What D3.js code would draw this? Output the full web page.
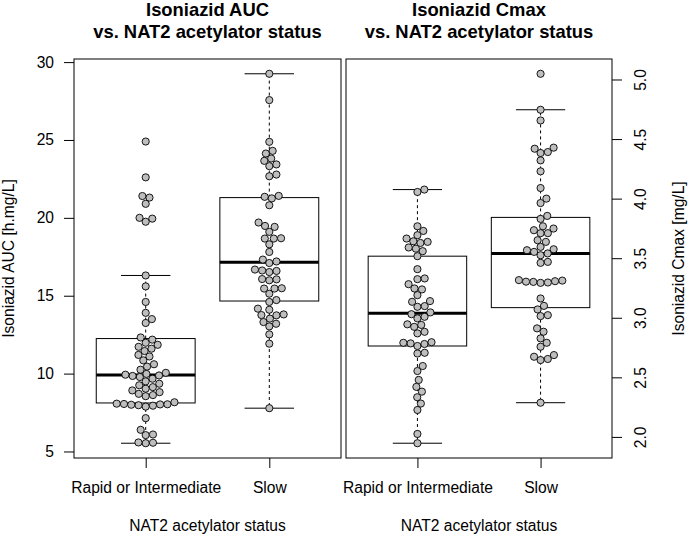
<!DOCTYPE html>
<html>
<head>
<meta charset="utf-8">
<script src="https://cdn.jsdelivr.net/npm/d3@7"></script>
<style>
  body { margin: 0; background: #fff; }
  svg { display: block; font-family: "Liberation Sans", Arial, sans-serif; }
</style>
</head>
<body>
<div id="chart"></div>
<script>

// groups on the x axis
var categories = ["Rapid or Intermediate", "Slow"];

// isoniazid AUC [h.mg/L], one value per patient
var aucRapid = [5.53, 5.56, 5.58, 6.05, 6.09, 6.39, 7.14, 7.88, 7.94, 7.97, 8.0, 8.02, 8.03, 8.05, 8.07,
        8.16, 8.55, 8.62, 8.7, 8.81, 8.92, 9.03, 9.13, 9.25, 9.35, 9.5, 9.67, 9.78, 9.85, 9.88, 9.93,
        9.98, 10.05, 10.25, 10.45, 10.6, 10.85, 11.1, 11.2, 11.45, 11.6, 11.72, 11.85, 11.98, 12.18,
        12.32, 13.25, 13.5, 13.9, 14.6, 15.6, 16.3, 19.75, 19.95, 20.0, 20.9, 21.3, 21.4, 22.6, 24.9];
var aucSlow = [7.78, 11.92, 12.52, 13.03, 13.2, 13.31, 13.53, 13.74, 13.76, 13.8, 14.1, 14.17, 14.6,
        14.72, 15.13, 15.46, 15.46, 15.48, 15.99, 16.05, 16.07, 16.52, 16.59, 16.62, 16.68, 17.1, 17.2,
        17.32, 17.81, 18.3, 18.67, 18.67, 18.69, 19.1, 19.42, 19.48, 19.7, 20.81, 21.25, 21.35, 21.41,
        22.67, 22.78, 23.32, 23.43, 23.66, 23.81, 24.13, 24.3, 24.88, 27.56, 29.25];

// isoniazid Cmax [mg/L]
var cmaxRapid = [1.947, 2.025, 2.226, 2.28, 2.333, 2.38, 2.42, 2.478, 2.553, 2.595, 2.70, 2.706, 2.763,
        2.78, 2.785, 2.79, 2.795, 2.869, 2.882, 2.924, 2.94, 2.945, 2.995, 3.008, 3.03, 3.045, 3.092,
        3.098, 3.134, 3.14, 3.19, 3.238, 3.246, 3.282, 3.324, 3.33, 3.408, 3.517, 3.559, 3.58, 3.59,
        3.628, 3.637, 3.642, 3.665, 3.693, 3.729, 3.768, 4.056, 4.076];
var cmaxSlow = [2.287, 2.645, 2.654, 2.673, 2.687, 2.757, 2.79, 2.827, 2.883, 2.911, 3.014, 3.022, 3.07,
        3.1, 3.162, 3.293, 3.296, 3.301, 3.303, 3.307, 3.312, 3.316, 3.461, 3.469, 3.525, 3.54, 3.553,
        3.567, 3.575, 3.595, 3.637, 3.651, 3.71, 3.71, 3.735, 3.749, 3.768, 3.83, 3.855, 3.963, 4.0,
        4.089, 4.229, 4.321, 4.383, 4.391, 4.419, 4.428, 4.656, 4.746, 5.048];

var aucTicks = [5, 10, 15, 20, 25, 30];
var cmaxTicks = [2.0, 2.5, 3.0, 3.5, 4.0, 4.5, 5.0];

var W = 689, H = 536;
var TOP = 59, BOTTOM = 458;
var FONT = 15.6;
var DOT = 7.3;     // swarm spacing in px
var R = 3.6;

var panels = [
        {"title": ["Isoniazid AUC", "vs. NAT2 acetylator status"], "ylab": "Isoniazid AUC [h.mg/L]",
         "groups": [aucRapid, aucSlow], "ticks": aucTicks, "fmt": d3.format("d"), "side": "left",
         "x0": 74, "x1": 341},
        {"title": ["Isoniazid Cmax", "vs. NAT2 acetylator status"], "ylab": "Isoniazid Cmax [mg/L]",
         "groups": [cmaxRapid, cmaxSlow], "ticks": cmaxTicks, "fmt": d3.format(".1f"), "side": "right",
         "x0": 346, "x1": 612}
];

var svg = d3.select("#chart").append("svg")
        .attr("width", W)
        .attr("height", H);

svg.append("rect").attr("width", W).attr("height", H).attr("fill", "#fff");

// R style fivenum (Tukey hinges)
function fivenum(v) {
        var x = v.slice().sort(d3.ascending);
        var n = x.length;
        var n4 = Math.floor((n + 3) / 2) / 2;
        var d = [1, n4, (n + 1) / 2, n + 1 - n4, n];
        return d.map(function(k) {
                return 0.5 * (x[Math.floor(k) - 1] + x[Math.ceil(k) - 1]);
        });
}

function boxStats(v) {
        var f = fivenum(v);
        var iqr = f[3] - f[1];
        var inside = v.filter(function(d) { return d >= f[1] - 1.5 * iqr && d <= f[3] + 1.5 * iqr; });
        return {"lo": d3.min(inside), "q1": f[1], "med": f[2], "q3": f[3], "hi": d3.max(inside)};
}

// beeswarm "swarm": place each point at the free offset closest to the centre
function swarm(py) {
        var order = d3.range(py.length).sort(function(a, b) { return py[b] - py[a]; });
        var placed = [];
        var out = new Array(py.length);
        order.forEach(function(i) {
                var y = py[i];
                var near = placed.filter(function(p) { return Math.abs(p.y - y) < DOT; });
                var cands = [0];
                near.forEach(function(p) {
                        var dx = Math.sqrt(DOT * DOT - (p.y - y) * (p.y - y));
                        cands.push(p.x + dx, p.x - dx);
                });
                var best = null;
                cands.forEach(function(c) {
                        var ok = near.every(function(p) {
                                return (c - p.x) * (c - p.x) + (p.y - y) * (p.y - y) >= DOT * DOT - 1e-6;
                        });
                        if (ok && (best === null || Math.abs(c) < Math.abs(best) - 1e-9)) best = c;
                });
                placed.push({"x": best, "y": y});
                out[i] = best;
        });
        return out;
}

function drawPanel(p) {

        var all = d3.merge(p.groups);
        var ext = d3.extent(all);
        var pad = (ext[1] - ext[0]) * 0.04;
        var y = d3.scaleLinear().domain([ext[0] - pad, ext[1] + pad]).range([BOTTOM, TOP]);
        var x = d3.scaleLinear().domain([0.42, 2.58]).range([p.x0, p.x1]);
        var boxW = x(1.8) - x(1);
        var capW = boxW / 2;
        var cx = (p.x0 + p.x1) / 2;

        var g = svg.append("g");

        // boxes
        p.groups.forEach(function(v, i) {
                var s = boxStats(v);
                var xc = x(i + 1);
                g.append("line")
                        .attr("x1", xc).attr("x2", xc)
                        .attr("y1", y(s.q3)).attr("y2", y(s.hi))
                        .attr("stroke", "#000").attr("stroke-dasharray", "3,3");
                g.append("line")
                        .attr("x1", xc).attr("x2", xc)
                        .attr("y1", y(s.q1)).attr("y2", y(s.lo))
                        .attr("stroke", "#000").attr("stroke-dasharray", "3,3");
                [s.lo, s.hi].forEach(function(w) {
                        g.append("line")
                                .attr("x1", xc - capW / 2).attr("x2", xc + capW / 2)
                                .attr("y1", y(w)).attr("y2", y(w))
                                .attr("stroke", "#000");
                });
                g.append("rect")
                        .attr("x", xc - boxW / 2).attr("width", boxW)
                        .attr("y", y(s.q3)).attr("height", y(s.q1) - y(s.q3))
                        .attr("fill", "none").attr("stroke", "#000");
                g.append("line")
                        .attr("x1", xc - boxW / 2).attr("x2", xc + boxW / 2)
                        .attr("y1", y(s.med)).attr("y2", y(s.med))
                        .attr("stroke", "#000").attr("stroke-width", 3);
        });

        // points
        p.groups.forEach(function(v, i) {
                var py = v.map(function(d) { return y(d); });
                var dx = swarm(py);
                g.selectAll(null)
                        .data(v)
                        .enter().append("circle")
                        .attr("cx", function(d, k) { return x(i + 1) + dx[k]; })
                        .attr("cy", function(d) { return y(d); })
                        .attr("r", R)
                        .attr("fill", "#bebebe")
                        .attr("stroke", "#000")
                        .attr("stroke-width", 0.9);
        });

        // frame
        g.append("rect")
                .attr("x", p.x0).attr("y", TOP)
                .attr("width", p.x1 - p.x0).attr("height", BOTTOM - TOP)
                .attr("fill", "none").attr("stroke", "#000");

        // x axis
        var xa = g.append("g").attr("transform", "translate(0," + BOTTOM + ")")
                .call(d3.axisBottom(x).tickValues([1, 2]).tickSize(10).tickPadding(13)
                        .tickFormat(function(d) { return categories[d - 1]; }));
        xa.select(".domain").remove();
        xa.selectAll("text").attr("font-size", FONT).attr("font-family", null).attr("fill", "#000")
                .attr("dy", null).attr("y", 35);

        g.append("text")
                .attr("x", cx).attr("y", 531)
                .attr("text-anchor", "middle")
                .attr("font-size", FONT)
                .text("NAT2 acetylator status");

        // y axis
        if (p.side == "left") {
                var ya = g.append("g").attr("transform", "translate(" + p.x0 + ",0)")
                        .call(d3.axisLeft(y).tickValues(p.ticks).tickSize(10).tickPadding(10).tickFormat(p.fmt));
                ya.select(".domain").remove();
                ya.selectAll("text").attr("font-size", FONT).attr("font-family", null).attr("fill", "#000");
                g.append("text")
                        .attr("transform", "translate(14," + ((TOP + BOTTOM) / 2) + ") rotate(-90)")
                        .attr("text-anchor", "middle")
                        .attr("font-size", FONT)
                        .text(p.ylab);
        } else {
                var yb = g.append("g").attr("transform", "translate(" + p.x1 + ",0)")
                        .call(d3.axisRight(y).tickValues(p.ticks).tickSize(10).tickFormat(p.fmt));
                yb.select(".domain").remove();
                yb.selectAll("text")
                        .attr("font-size", FONT).attr("font-family", null).attr("fill", "#000")
                        .attr("x", null).attr("dy", null)
                        .attr("text-anchor", "middle")
                        .attr("transform", "translate(34,0) rotate(-90)");
                g.append("text")
                        .attr("transform", "translate(684," + ((TOP + BOTTOM) / 2) + ") rotate(-90)")
                        .attr("text-anchor", "middle")
                        .attr("font-size", FONT)
                        .text(p.ylab);
        }

        // title
        p.title.forEach(function(t, k) {
                svg.append("text")
                        .attr("x", cx).attr("y", 16 + k * 21.5)
                        .attr("text-anchor", "middle")
                        .attr("font-size", 18.4)
                        .attr("font-weight", "bold")
                        .text(t);
        });
}

panels.forEach(drawPanel);

</script>
</body>
</html>
